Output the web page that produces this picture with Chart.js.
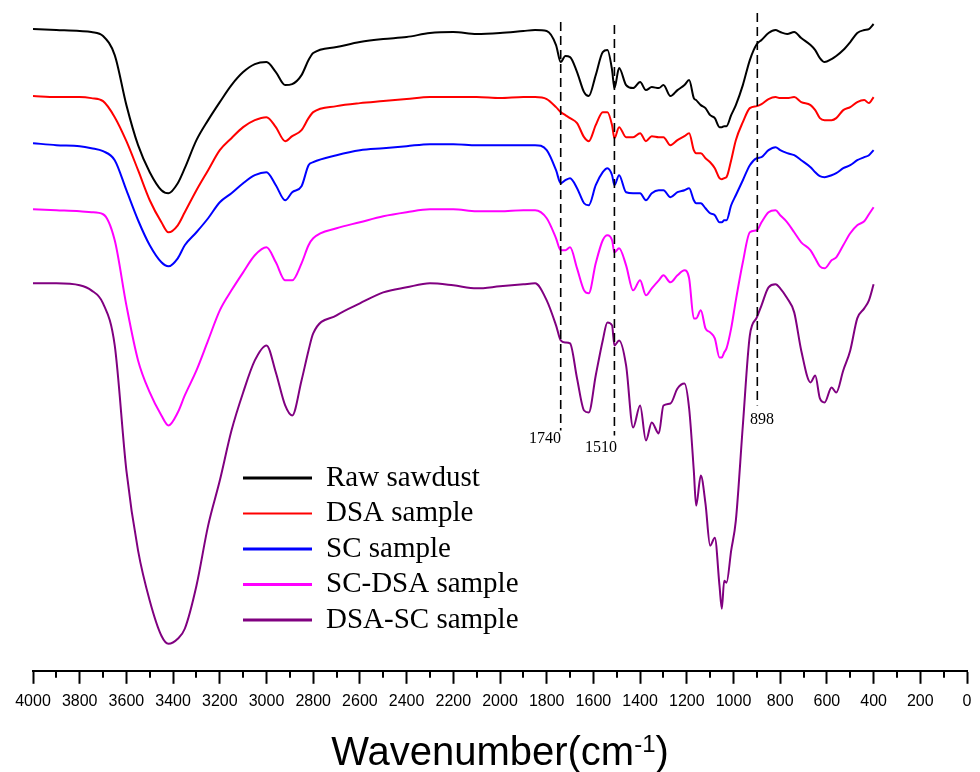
<!DOCTYPE html>
<html>
<head>
<meta charset="utf-8">
<script src="https://cdn.jsdelivr.net/npm/chart.js@4.4.0/dist/chart.umd.min.js"></script>
<style>
html, body { margin: 0; padding: 0; background: #fff; }
</style>
</head>
<body>
<canvas id="ftir" width="980" height="772"></canvas>
<script>
// wavenumber grid (cm-1), shared by every spectrum
var wavenumbers = [4000,3900,3800,3750,3700,3650,3600,3550,3500,3450,3420,3380,3350,3300,3250,3200,3150,3100,3050,3000,
  2960,2920,2890,2850,2820,2800,
  2700,2600,2500,2400,2300,2200,2100,2000,1900,1850,1800,
  1760,1740,1720,1700,1670,1640,1620,1590,1560,1540,1520,1510,1490,1460,1430,1400,
  1375,1350,1320,1300,1270,1240,1210,1190,1170,1160,1140,1120,1100,1080,1060,1050,1040,1030,1010,990,
  960,930,900,880,850,820,800,770,740,710,670,650,630,610,580,560,530,500,470,440,420,400];

// transmittance, arbitrary units (curves are offset vertically)
var rawSawdust = [641,640,639,638,634,615,565,525,498,480,477,487,502,530,550,568,585,598,606,608,
  598,585,586,595,610,617,
  623,628,631,633,637,638,636,637,639,640,639,
  625,608,614,613,598,578,574,595,618,620,600,582,602,585,582,588,
  580,583,582,585,574,580,585,590,572,570,565,562,555,552,543,543,544,544,555,565,
  585,610,626,630,637,640,638,636,638,632,625,620,612,608,611,614,620,628,637,640,641,646];

var dsaSample = [574,573,573,572,569,553,529,500,470,448,438,445,458,480,500,520,532,543,550,553,
  543,529,534,540,552,558,
  564,567,569,571,573,573,573,572,573,573,571,
  563,558,555,552,547,533,529,545,558,558,545,532,543,533,533,537,
  529,534,533,533,525,530,534,537,520,517,517,512,508,502,492,491,492,493,510,530,
  548,562,564,566,571,573,572,572,573,568,565,560,552,550,550,552,560,563,568,570,567,573];

var scSample = [527,525,524,522,519,510,480,450,425,408,404,412,425,438,452,468,477,487,495,498,
  485,470,478,484,505,508,
  515,520,522,524,526,526,525,525,525,525,520,
  500,487,490,492,482,467,465,485,498,502,495,485,495,478,477,477,
  470,477,480,480,473,478,480,482,470,467,467,462,457,455,448,448,450,450,465,475,
  490,505,512,513,520,523,520,517,515,510,503,498,494,493,495,497,502,505,510,513,515,520];

var scDsaSample = [461,460,459,458,456,430,365,310,278,255,245,258,275,300,330,360,380,398,415,423,
  408,390,390,407,425,432,
  442,448,454,458,461,461,459,459,460,460,452,
  432,420,420,423,402,380,377,407,430,435,430,418,422,405,380,390,
  375,382,390,395,388,395,400,392,352,352,360,342,338,332,313,313,318,322,342,370,
  408,438,440,448,458,460,455,448,438,428,420,412,404,402,410,413,425,437,445,449,456,463];

var dsaScSample = [387,387,385,380,367,325,200,120,70,35,27,32,42,85,145,190,240,278,310,325,
  298,265,255,290,320,337,
  355,367,378,383,387,385,382,384,386,387,370,
  345,330,328,327,292,260,258,295,330,348,345,325,330,305,243,265,
  230,248,237,265,267,282,287,262,200,165,195,167,125,133,85,62,90,88,120,150,
  245,335,353,365,383,386,382,372,358,320,288,295,272,268,283,278,300,320,352,362,370,386];

var seriesNames = ['Raw sawdust', 'DSA sample', 'SC sample', 'SC-DSA sample', 'DSA-SC sample'];
var seriesColors = ['#000000', '#ff0000', '#0000ff', '#ff00ff', '#800080'];
var seriesValues = [rawSawdust, dsaSample, scSample, scDsaSample, dsaScSample];

// marked bands (dashed guides)
var markWn = [1740, 1510, 898];
var markTop = [648, 645, 657];
var markBottom = [240, 235, 265];
var markLabels = ['1740', '1510', '898'];
var labelWn = [1807, 1567, 878];
var labelT = [232, 223, 251];

function pairs(vals) {
  return wavenumbers.map(function (w, i) { return { x: w, y: vals[i] }; });
}

var datasets = [];
for (var k = 0; k < markWn.length; k++) {
  datasets.push({
    label: 'mark' + markLabels[k],
    data: [{ x: markWn[k], y: markTop[k] }, { x: markWn[k], y: markBottom[k] }],
    borderColor: '#000',
    borderWidth: 1.6,
    borderDash: [9, 5],
    pointRadius: 0
  });
}
for (var s = 0; s < seriesNames.length; s++) {
  datasets.push({
    label: seriesNames[s],
    data: pairs(seriesValues[s]),
    borderColor: seriesColors[s],
    borderWidth: 2,
    pointRadius: 0,
    cubicInterpolationMode: 'monotone'
  });
}

var extras = {
  id: 'extras',
  afterDraw: function (chart) {
    var ctx = chart.ctx, xs = chart.scales.x, ys = chart.scales.y;
    var base = chart.chartArea.bottom;
    ctx.save();
    // minor ticks
    ctx.strokeStyle = '#000';
    ctx.lineWidth = 2;
    for (var v = 100; v < 4000; v += 200) {
      var px = Math.round(xs.getPixelForValue(v));
      ctx.beginPath();
      ctx.moveTo(px, base);
      ctx.lineTo(px, base + 7);
      ctx.stroke();
    }
    // band labels
    ctx.fillStyle = '#000';
    ctx.font = '16px "Liberation Serif"';
    ctx.textAlign = 'center';
    ctx.textBaseline = 'middle';
    for (var i = 0; i < markLabels.length; i++) {
      ctx.fillText(markLabels[i], xs.getPixelForValue(labelWn[i]), ys.getPixelForValue(labelT[i]));
    }
    // legend
    ctx.font = '29px "Liberation Serif"';
    ctx.textAlign = 'left';
    for (var j = 0; j < seriesNames.length; j++) {
      var ly = 478 + j * 35.5;
      ctx.strokeStyle = seriesColors[j];
      ctx.lineWidth = j === 1 ? 2 : 3;
      ctx.beginPath();
      ctx.moveTo(243, ly);
      ctx.lineTo(312, ly);
      ctx.stroke();
      ctx.fillText(seriesNames[j], 326, ly);
    }
    // axis title with superscript
    var big = '40px "Liberation Sans"', small = '24px "Liberation Sans"';
    ctx.textBaseline = 'alphabetic';
    ctx.font = big;
    var w1 = ctx.measureText('Wavenumber(cm').width;
    var w3 = ctx.measureText(')').width;
    ctx.font = small;
    var w2 = ctx.measureText('-1').width;
    var cx = (chart.chartArea.left + chart.chartArea.right) / 2;
    var x0 = cx - (w1 + w2 + w3) / 2;
    ctx.font = big;
    ctx.fillText('Wavenumber(cm', x0, 765);
    ctx.font = small;
    ctx.fillText('-1', x0 + w1, 752);
    ctx.font = big;
    ctx.fillText(')', x0 + w1 + w2, 765);
    ctx.restore();
  }
};

new Chart(document.getElementById('ftir'), {
  type: 'line',
  data: { datasets: datasets },
  options: {
    responsive: false,
    animation: false,
    events: [],
    layout: { padding: { left: 33, right: 13, top: 0, bottom: 53 } },
    plugins: { legend: { display: false }, tooltip: { enabled: false } },
    scales: {
      x: {
        type: 'linear',
        reverse: true,
        min: 0,
        max: 4000,
        border: { display: true, color: '#000', width: 2 },
        grid: { drawOnChartArea: false, drawTicks: true, tickLength: 13, tickColor: '#000', tickWidth: 2 },
        ticks: {
          stepSize: 200,
          autoSkip: false,
          maxRotation: 0,
          padding: 8,
          color: '#000',
          font: { family: '"Liberation Sans", Arial', size: 16 },
          callback: function (value) { return String(value); }
        }
      },
      y: { display: false, min: 0, max: 670 }
    }
  },
  plugins: [extras]
});
</script>
</body>
</html>
